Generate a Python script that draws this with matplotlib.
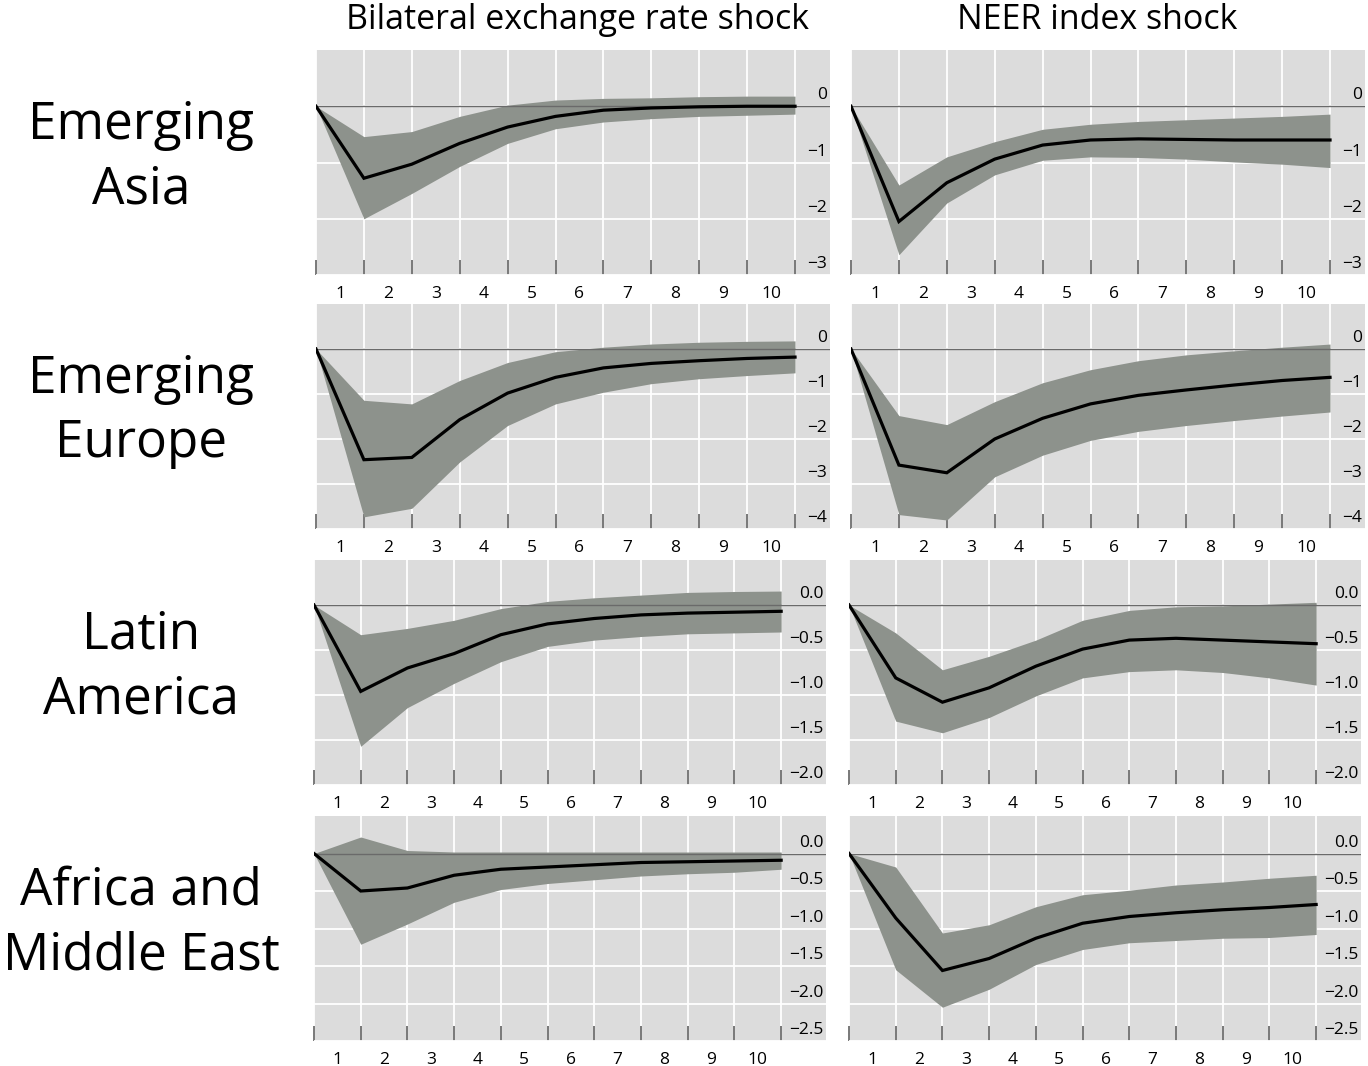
import matplotlib.pyplot as plt

plt.rcParams['font.family'] = ['Open Sans', 'DejaVu Sans']

# quarters after the shock (0 = impact)
horizon = list(range(11))
quarter_labels = [str(q) for q in range(1, 11)]

col_titles = ['Bilateral exchange rate shock', 'NEER index shock']
region_names = ['Emerging\nAsia', 'Emerging\nEurope', 'Latin\nAmerica', 'Africa and\nMiddle East']

# Emerging Asia
asia_bil_mid = [0, -1.28, -1.03, -0.66, -0.37, -0.18, -0.07, -0.03, -0.01, 0.0, 0.0]
asia_bil_hi = [0, -0.54, -0.45, -0.18, 0.02, 0.11, 0.14, 0.15, 0.17, 0.18, 0.18]
asia_bil_lo = [0, -2.00, -1.55, -1.07, -0.66, -0.40, -0.28, -0.22, -0.18, -0.16, -0.14]
asia_neer_mid = [0, -2.05, -1.36, -0.94, -0.69, -0.60, -0.58, -0.59, -0.60, -0.60, -0.60]
asia_neer_hi = [0, -1.40, -0.90, -0.63, -0.41, -0.32, -0.27, -0.24, -0.21, -0.18, -0.14]
asia_neer_lo = [0, -2.64, -1.72, -1.22, -0.96, -0.90, -0.91, -0.94, -0.99, -1.03, -1.09]

# Emerging Europe
europe_bil_mid = [0, -2.46, -2.41, -1.57, -0.98, -0.63, -0.42, -0.32, -0.26, -0.21, -0.18]
europe_bil_hi = [0, -1.14, -1.22, -0.70, -0.30, -0.06, 0.04, 0.11, 0.15, 0.17, 0.18]
europe_bil_lo = [0, -3.73, -3.54, -2.51, -1.70, -1.22, -0.96, -0.77, -0.66, -0.59, -0.53]
europe_neer_mid = [0, -2.58, -2.75, -2.00, -1.54, -1.22, -1.03, -0.91, -0.80, -0.70, -0.63]
europe_neer_hi = [0, -1.48, -1.68, -1.17, -0.75, -0.46, -0.26, -0.13, -0.04, 0.04, 0.11]
europe_neer_lo = [0, -3.68, -3.80, -2.84, -2.36, -2.03, -1.83, -1.70, -1.59, -1.49, -1.40]

# Latin America
latam_bil_mid = [0, -0.96, -0.70, -0.54, -0.33, -0.21, -0.15, -0.11, -0.09, -0.08, -0.07]
latam_bil_hi = [0, -0.33, -0.26, -0.17, -0.04, 0.04, 0.08, 0.11, 0.14, 0.15, 0.155]
latam_bil_lo = [0, -1.57, -1.14, -0.87, -0.63, -0.46, -0.39, -0.35, -0.32, -0.31, -0.30]
latam_neer_mid = [0, -0.81, -1.08, -0.92, -0.68, -0.49, -0.39, -0.37, -0.39, -0.41, -0.43]
latam_neer_hi = [0, -0.31, -0.72, -0.57, -0.39, -0.17, -0.06, -0.02, -0.01, 0.01, 0.03]
latam_neer_lo = [0, -1.29, -1.42, -1.25, -1.01, -0.81, -0.74, -0.72, -0.75, -0.81, -0.89]

# Africa and Middle East
ame_bil_mid = [0, -0.50, -0.46, -0.29, -0.21, -0.18, -0.15, -0.12, -0.11, -0.10, -0.09]
ame_bil_hi = [0, 0.22, 0.04, 0.02, 0.02, 0.02, 0.02, 0.02, 0.02, 0.02, 0.02]
ame_bil_lo = [0, -1.21, -0.94, -0.65, -0.48, -0.40, -0.35, -0.30, -0.27, -0.25, -0.21]
ame_neer_mid = [0, -0.86, -1.56, -1.40, -1.13, -0.93, -0.84, -0.79, -0.75, -0.72, -0.68]
ame_neer_hi = [0, -0.18, -1.06, -0.95, -0.71, -0.55, -0.49, -0.42, -0.38, -0.33, -0.29]
ame_neer_lo = [0, -1.55, -2.05, -1.81, -1.48, -1.28, -1.19, -1.16, -1.13, -1.12, -1.08]

# y axis per region
row_ylims = [(-3, 1), (-4, 1), (-2, 0.5), (-2.5, 0.5)]
row_yticks = [[0, -1, -2, -3],
              [0, -1, -2, -3, -4],
              [0, -0.5, -1.0, -1.5, -2.0],
              [0, -0.5, -1.0, -1.5, -2.0, -2.5]]
row_yticklabels = [['0', '\u22121', '\u22122', '\u22123'],
                   ['0', '\u22121', '\u22122', '\u22123', '\u22124'],
                   ['0.0', '\u22120.5', '\u22121.0', '\u22121.5', '\u22122.0'],
                   ['0.0', '\u22120.5', '\u22121.0', '\u22121.5', '\u22122.0', '\u22122.5']]

series = [
    [(asia_bil_lo, asia_bil_mid, asia_bil_hi), (asia_neer_lo, asia_neer_mid, asia_neer_hi)],
    [(europe_bil_lo, europe_bil_mid, europe_bil_hi), (europe_neer_lo, europe_neer_mid, europe_neer_hi)],
    [(latam_bil_lo, latam_bil_mid, latam_bil_hi), (latam_neer_lo, latam_neer_mid, latam_neer_hi)],
    [(ame_bil_lo, ame_bil_mid, ame_bil_hi), (ame_neer_lo, ame_neer_mid, ame_neer_hi)],
]

W, H = 1368, 1066
fig = plt.figure(figsize=(W / 100, H / 100), dpi=100)

# panel placement in pixels
row_tops = [50, 304, 560, 816]
panel_h = 225
col_lefts = [[316, 851], [316, 851], [314, 849], [314, 849]]
panel_w = [514, 514, 512, 512]
row_xmax = [10.73, 10.73, 10.96, 10.96]
title_x = [577, 1097]

bg = '#dcdcdc'
band = '#8d928c'

for r in range(4):
    for c in range(2):
        left = col_lefts[r][c]
        ax = fig.add_axes([left / W, 1 - (row_tops[r] + panel_h) / H,
                           panel_w[r] / W, panel_h / H])
        ax.set_facecolor(bg)
        for s in ax.spines.values():
            s.set_visible(False)
        ax.set_xlim(0, row_xmax[r])
        ax.set_ylim(*row_ylims[r])

        lo, mid, hi = series[r][c]
        ax.fill_between(horizon, lo, hi, color=band, lw=0, zorder=2)
        ax.axhline(0, color='#6a6a6a', lw=1.0, zorder=3)
        ax.plot(horizon, mid, color='black', lw=2.3, zorder=4,
                solid_joinstyle='miter')

        ax.set_axisbelow(True)
        ax.set_xticks(horizon)
        ax.set_xticks([q + 0.5 for q in range(10)], minor=True)
        ax.set_xticklabels([])
        ax.set_xticklabels(quarter_labels, minor=True, fontsize=12.5)
        ax.tick_params(axis='x', which='major', direction='in', length=11,
                       width=1.1, color='#555555')
        ax.tick_params(axis='x', which='minor', length=0, pad=8)
        ax.set_yticks(row_yticks[r])
        ax.set_yticklabels([])
        ax.tick_params(axis='y', length=0)
        ax.grid(True, which='major', color='white', lw=1.3)

        for val, lab in zip(row_yticks[r], row_yticklabels[r]):
            ax.annotate(lab, xy=(1, val), xycoords=('axes fraction', 'data'),
                        xytext=(-2, 2), textcoords='offset points',
                        ha='right', va='bottom', fontsize=12.5)

for c, title in enumerate(col_titles):
    fig.text(title_x[c] / W, 1 - 20 / H, title, ha='center', va='center',
             fontsize=24.5)

for r, name in enumerate(region_names):
    yc = row_tops[r] + panel_h / 2 - 5
    fig.text(141 / W, 1 - yc / H, name, ha='center', va='center',
             fontsize=37, linespacing=1.34)

fig.savefig('out.png', dpi=100, facecolor='white')
